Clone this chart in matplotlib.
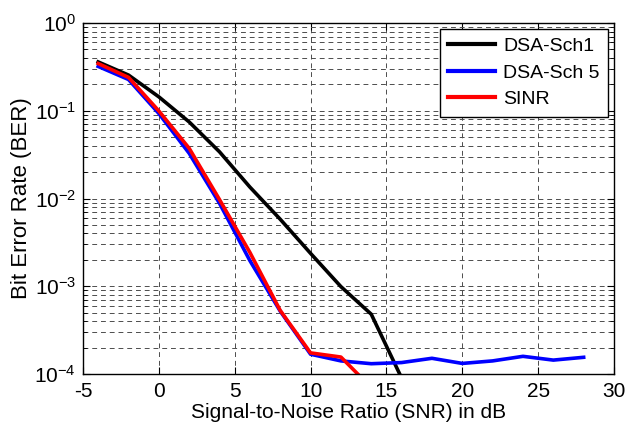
import matplotlib
matplotlib.use("Agg")
import matplotlib.pyplot as plt
from matplotlib.ticker import LogLocator, FixedLocator

snr_sch1 = [-4, -2, 0, 2, 4, 6, 8, 10, 12, 14, 16]
ber_sch1 = [0.36, 0.255, 0.144, 0.0745, 0.034, 0.0135, 0.0058, 0.00237, 0.00099, 0.00048, 0.00009]

snr_sch5 = [-4, -2, 0, 2, 4, 6, 8, 10, 12, 14, 16, 18, 20, 22, 24, 26, 28]
ber_sch5 = [0.32, 0.227, 0.093, 0.0327, 0.0088, 0.00196, 0.00052, 0.000168, 0.000141,
            0.000131, 0.000135, 0.000151, 0.000132, 0.000141, 0.000159, 0.000144, 0.000155]

snr_sinr = [-4, -2, 0, 2, 4, 6, 8, 10, 12, 14]
ber_sinr = [0.345, 0.24, 0.0995, 0.0373, 0.0097, 0.00243, 0.00053, 0.000174, 0.000156, 0.00007]

x_ticks = [-5, 0, 5, 10, 15, 20, 25, 30]
y_ticks = [1e-4, 1e-3, 1e-2, 1e-1, 1e0]
y_labels = ["$10^{-4}$", "$10^{-3}$", "$10^{-2}$", "$10^{-1}$", "$10^{0}$"]

plt.rcParams["font.family"] = ["Liberation Sans", "DejaVu Sans"]
plt.rcParams["mathtext.fontset"] = "custom"
plt.rcParams["mathtext.rm"] = "Liberation Sans"
plt.rcParams["mathtext.it"] = "Liberation Sans"
plt.rcParams["axes.unicode_minus"] = False

fig = plt.figure(figsize=(6.38, 4.28), dpi=100)
ax = fig.add_axes([83 / 638, 1 - 374 / 428, (614 - 83) / 638, (374 - 23) / 428])

ax.semilogy(snr_sch1, ber_sch1, color="black", lw=2.6, label="DSA-Sch1")
ax.semilogy(snr_sch5, ber_sch5, color="#0000ff", lw=2.6, label="DSA-Sch 5")
ax.semilogy(snr_sinr, ber_sinr, color="#ff0000", lw=2.6, label="SINR")

ax.set_xlim(-5, 30)
ax.set_ylim(1e-4, 1e0)
ax.xaxis.set_major_locator(FixedLocator(x_ticks))
ax.set_yticks(y_ticks)
ax.set_yticklabels(y_labels)
ax.yaxis.set_minor_locator(LogLocator(base=10, subs=range(2, 10)))

grid_style = dict(color="0.3", linestyle=(0, (5, 4)), linewidth=0.7)
ax.grid(True, which="major", axis="both", **grid_style)
ax.grid(True, which="minor", axis="y", **grid_style)
ax.set_axisbelow(True)

ax.tick_params(which="both", direction="in", top=True, right=True, labelsize=15)
ax.tick_params(axis="x", pad=6)
ax.tick_params(axis="y", pad=5)
ax.tick_params(which="major", length=5)
ax.tick_params(which="minor", length=3)
for s in ax.spines.values():
    s.set_linewidth(1.0)

ax.set_xlabel("Signal-to-Noise Ratio (SNR) in dB", fontsize=15, labelpad=1)
ax.set_ylabel("Bit Error Rate (BER)", fontsize=16, labelpad=2)

leg = ax.legend(loc="upper right", fontsize=14, fancybox=False, framealpha=1,
                edgecolor="black", handlelength=2.4, handletextpad=0.4,
                borderpad=0.45, labelspacing=0.45, borderaxespad=0.3)
leg.get_frame().set_linewidth(1.0)
for line in leg.get_lines():
    line.set_linewidth(3)

fig.savefig("out.png", dpi=100)
